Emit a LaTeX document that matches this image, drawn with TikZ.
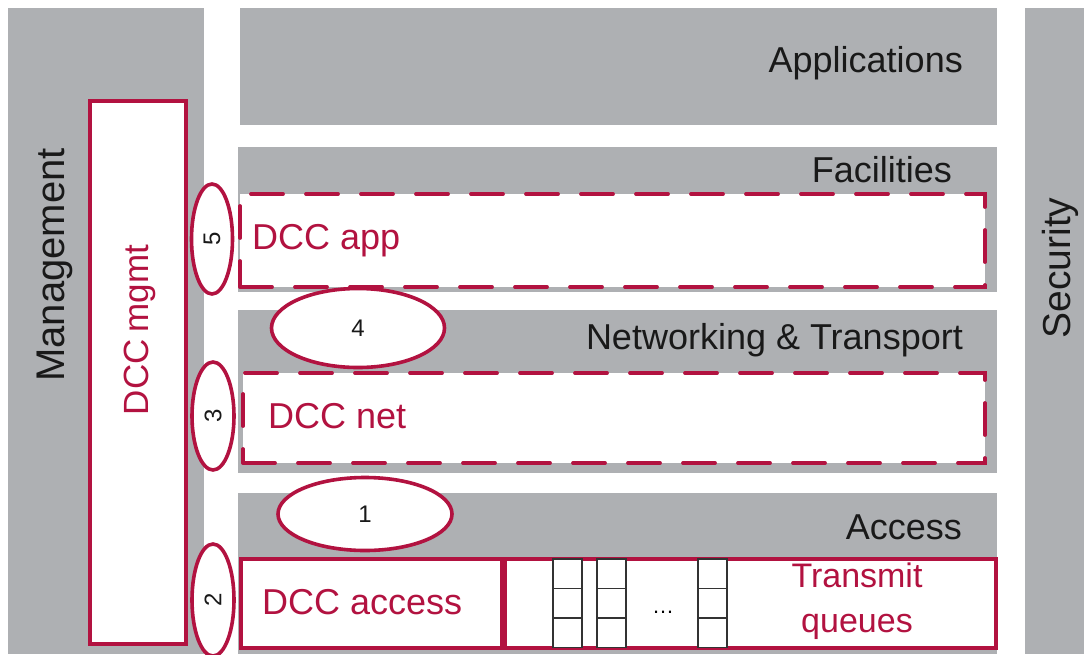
\documentclass[tikz,border=0pt]{standalone}
\usepackage{fontspec}
\setmainfont{Liberation Sans}
\usetikzlibrary{shapes.geometric}
\definecolor{band}{RGB}{174,176,179}
\definecolor{dccred}{RGB}{178,18,64}
\begin{document}
\begin{tikzpicture}[x=1pt,y=-1pt,
  layer/.style={fill=band, draw=none, inner sep=0pt, outer sep=0pt, anchor=north west},
  title/.style={font=\fontsize{36}{40}\selectfont, inner sep=0pt, text=black!90},
  redbox/.style={draw=dccred, line width=3.8pt, fill=white, inner sep=0pt, outer sep=0pt, anchor=north west},
  dashbox/.style={redbox, line cap=round, dash pattern=on 32pt off 23pt},
  redtext/.style={text=dccred, font=\fontsize{36}{40}\selectfont, inner sep=0pt},
  num/.style={ellipse, draw=dccred, line width=3.6pt, fill=white, inner sep=0pt, font=\fontsize{24}{26}\selectfont, text=black!90},
  qcell/.style={draw=black!80, line width=1.5pt, fill=white, minimum width=29pt, minimum height=29.5pt, inner sep=0pt, outer sep=0pt, anchor=north west}]
\useasboundingbox (0,0) rectangle (1084,654);
\fill[white] (0,0) rectangle (1084,654);
% grey layers
\node[layer, minimum width=196pt, minimum height=646pt] (mgmt) at (8,8) {};
\node[layer, minimum width=757pt, minimum height=117pt] (apps) at (240,8) {};
\node[layer, minimum width=759pt, minimum height=145pt] (fac) at (238,147) {};
\node[layer, minimum width=759pt, minimum height=163pt] (net) at (238,310) {};
\node[layer, minimum width=759pt, minimum height=161pt] (acc) at (238,493) {};
\node[layer, minimum width=59pt, minimum height=646pt] (sec) at (1025,8) {};
% layer titles
\node[title, anchor=east] (tapps) at (963,63) {Applications};
\node[title, anchor=east] (tfac) at (952,170) {Facilities};
\node[title, anchor=east] (tnet) at (963,340) {Networking \& Transport};
\node[title, anchor=east] (tacc) at (962,527) {Access};
\node[title, rotate=90, font=\fontsize{40}{44}\selectfont] (tmgmt) at (55,265) {Management};
\node[title, rotate=90, font=\fontsize{39}{44}\selectfont] (tsec) at (1060,268) {Security};
% DCC boxes
\node[redbox, minimum width=96pt, minimum height=543pt] (dccmgmt) at (90,101) {};
\node[redtext, rotate=90, font=\fontsize{35}{40}\selectfont] (tdccmgmt) at (140,330) {DCC\hspace{-3pt} mgmt};
\node[dashbox, minimum width=745pt, minimum height=93pt] (dccapp) at (240,194) {};
\node[redtext, anchor=west] (tdccapp) at (252,241) {DCC app};
\node[dashbox, minimum width=742pt, minimum height=90pt] (dccnet) at (243,373) {};
\node[redtext, anchor=west] (tdccnet) at (268,416) {DCC net};
\node[redbox, minimum width=261pt, minimum height=89pt] (dccacc) at (241,559) {};
\node[redtext, anchor=west] (tdccacc) at (262,602) {DCC access};
\node[redbox, minimum width=491pt, minimum height=89pt] (txq) at (505,559) {};
\node[redtext, align=center, font=\fontsize{34}{45}\selectfont] (ttxq) at (857,601) {Transmit\\queues};
% queues
\foreach \qx [count=\qi] in {553,597,698}{
  \foreach \qy [count=\qj] in {559,588.5,618}{
    \node[qcell] (q\qi\qj) at (\qx,\qy) {};
  }
}
\node[inner sep=0pt, font=\fontsize{22}{24}\selectfont] (dots) at (663,612) {\dots};
% numbered ellipses
\node[num, minimum width=110pt, minimum height=41pt, rotate=90] (e5) at (212,239) {5};
\node[num, minimum width=108pt, minimum height=42pt, rotate=90] (e3) at (213,416) {3};
\node[num, minimum width=112pt, minimum height=42pt, rotate=90] (e2) at (213,600) {2};
\node[num, minimum width=173pt, minimum height=79pt] (e4) at (358,328) {4};
\node[num, minimum width=174pt, minimum height=73pt] (e1) at (365,514) {1};
\end{tikzpicture}
\end{document}
